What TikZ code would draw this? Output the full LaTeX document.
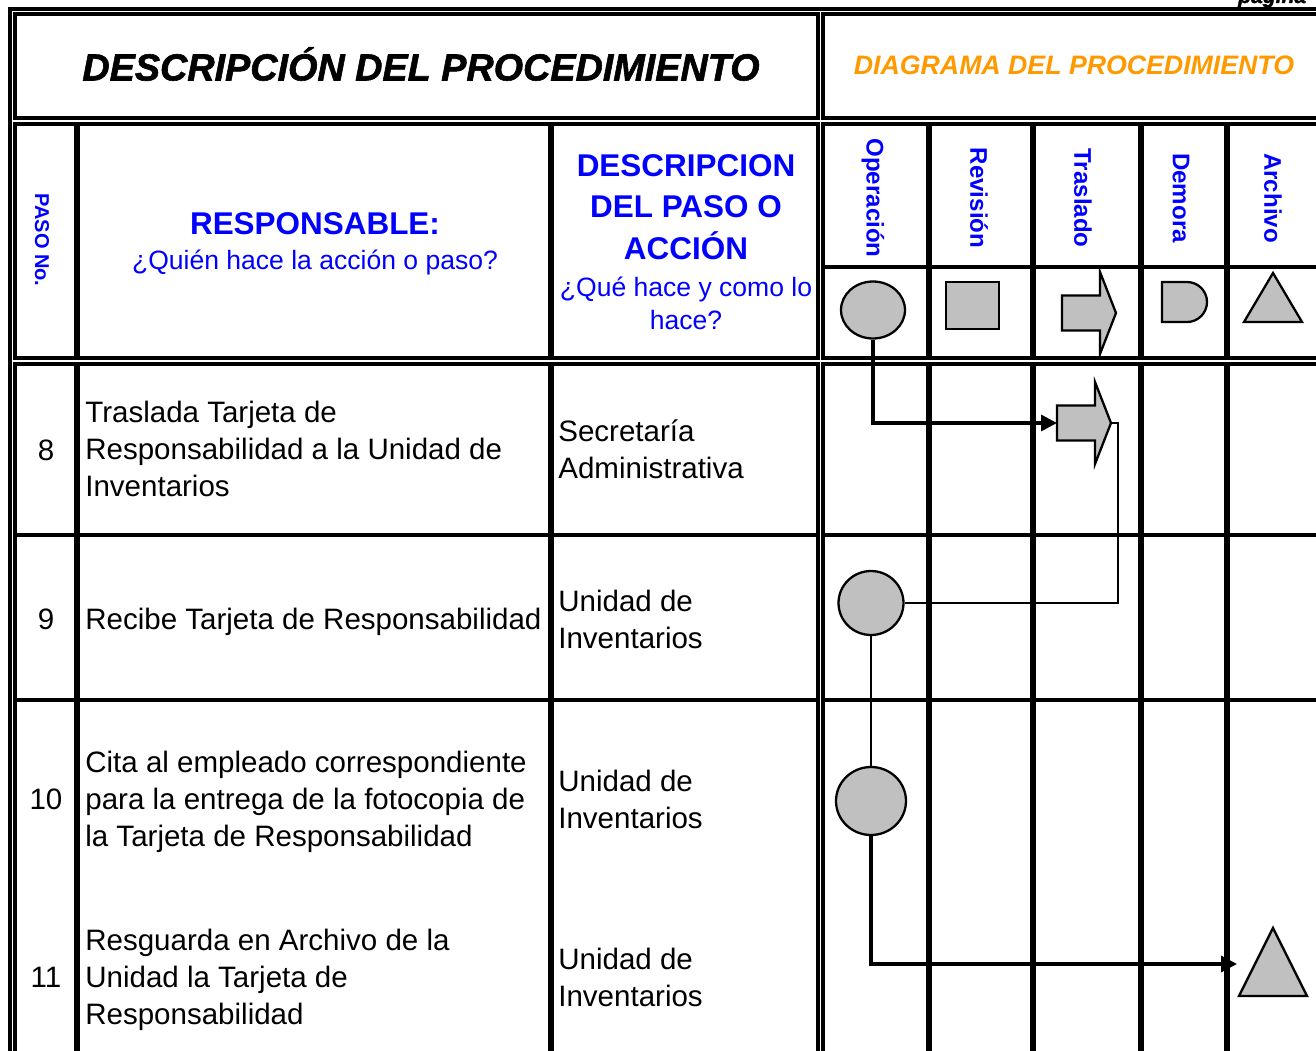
\documentclass[tikz,border=0pt]{standalone}
\usepackage{fontspec}
\setmainfont{Liberation Sans}
\newfontfamily\titulofuente[FakeBold=1.5]{Liberation Sans}
\usepackage{xcolor}
\usepackage{tikz}
\usetikzlibrary{shapes.geometric, arrows.meta, positioning}
\definecolor{pasoazul}{RGB}{0,0,255}
\definecolor{titulonaranja}{RGB}{255,153,0}
\definecolor{simbologris}{RGB}{192,192,192}
\tikzset{
    marco/.style={
        line width=2.1pt,
    },
    divisor/.style={
        line width=3pt,
    },
    simbolo/.style={
        draw=black,
        fill=simbologris,
        line width=1.3pt,
    },
    operacion/.style={
        ellipse,
        simbolo,
        inner sep=0pt,
    },
    flujo/.style={
        line width=1.9pt,
        -{Triangle[length=9pt,width=9pt]},
    },
    enlace/.style={
        line width=1.2pt,
    },
    encabezado/.style={
        text=pasoazul,
        font=\bfseries\fontsize{17.9}{23.6}\selectfont,
        align=center,
    },
    pregunta/.style={
        text=pasoazul,
        font=\fontsize{15.1}{18.8}\selectfont,
        align=center,
    },
    carril/.style={
        text=pasoazul,
        font=\bfseries\fontsize{13.7}{16}\selectfont,
        rotate=-90,
    },
    celda/.style={
        font=\fontsize{16.8}{21}\selectfont,
        align=left,
        anchor=west,
        inner sep=0pt,
    },
    paso/.style={
        font=\fontsize{16.8}{21}\selectfont,
        inner sep=0pt,
    },
    traslado/.pic={
        \draw[simbolo] (0,-17.5) -- (38,-17.5) -- (38,-41) -- (54,0) -- (38,41) -- (38,17.5) -- (0,17.5) -- cycle;
        \coordinate (-w) at (0,0);
        \coordinate (-e) at (54,0);
    },
}
\begin{document}
\begin{tikzpicture}[x=0.02cm, y=-0.02cm]
      \useasboundingbox (0,0) rectangle (1316,1051);

      \draw[marco] (10,1070) -- (10,9) -- (1330,9);
      \draw[marco] (15,14) rectangle (818,118);
      \draw[marco] (823,14) rectangle (1330,118);

      \draw[marco] (15,124) rectangle (818,358);
      \draw[marco] (823,124) rectangle (1330,358);
      \draw[marco] (823,267) -- (1330,267);
      \draw[marco] (15,364) rectangle (818,1070);
      \draw[marco] (823,364) rectangle (1330,1070);
      \foreach \y in {535,700} {
        \draw[marco] (15,\y) -- (818,\y);
        \draw[marco] (823,\y) -- (1330,\y);
      }
      \foreach \x in {77,551} {
        \draw[divisor] (\x,124) -- (\x,358);
        \draw[divisor] (\x,364) -- (\x,1070);
      }
      \foreach \x in {929,1033,1141,1227} {
        \draw[divisor] (\x,124) -- (\x,358);
        \draw[divisor] (\x,364) -- (\x,1070);
      }

      \node[font=\titulofuente\bfseries\itshape\fontsize{12}{14}\selectfont, anchor=base west] (pagina) at (1232,3) {página};
      \node[font=\titulofuente\bfseries\itshape\fontsize{21.5}{25}\selectfont] (titulo) at (421,64) {DESCRIPCIÓN DEL PROCEDIMIENTO};
      \node[text=titulonaranja, font=\bfseries\itshape\fontsize{15.2}{18}\selectfont] (diagrama) at (1074,65) {DIAGRAMA DEL PROCEDIMIENTO};

      \node[text=pasoazul, font=\bfseries\fontsize{11.4}{13}\selectfont, rotate=-90] (pasono) at (42,240) {PASO No.};
      \node[encabezado] (resp) at (315,224) {RESPONSABLE:};
      \node[pregunta] (quien) at (315,262) {¿Quién hace la acción o paso?};
      \node[encabezado] (desc) at (686,207) {DESCRIPCION\\DEL PASO O\\ACCIÓN};
      \node[pregunta] (que) at (686,303) {¿Qué hace y como lo\\hace?};
      \foreach \x/\t [count=\i] in {873/Operación, 979/Revisión, 1083/Traslado, 1181/Demora, 1273/Archivo}
        \node[carril] (carril\i) at (\x,198) {\t};

      \node[operacion, minimum width=1.28cm, minimum height=1.14cm] (hop) at (873,310) {};
      \node[simbolo, minimum width=1.06cm, minimum height=0.94cm, inner sep=0pt] (hrev) at (972.5,305.5) {};
      \pic (htra) at (1062,313) {traslado};
      \draw[simbolo] (1162,282) -- (1187,282) arc[start angle=-90, end angle=90, radius=20] -- (1162,322) -- cycle;
      \draw[simbolo] (1273,273) -- (1302,322) -- (1244,322) -- cycle;

      \node[paso] (n8) at (46,450) {8};
      \node[celda] (d8) at (85,449) {Traslada Tarjeta de\\Responsabilidad a la Unidad de\\Inventarios};
      \node[celda] (r8) at (558,449) {Secretaría\\Administrativa};
      \node[paso] (n9) at (46,619) {9};
      \node[celda] (d9) at (85,622) {Recibe Tarjeta de Responsabilidad};
      \node[celda] (r9) at (558,619) {Unidad de\\Inventarios};
      \node[paso] (n10) at (46,799) {10};
      \node[celda] (d10) at (85,802) {Cita al empleado correspondiente\\para la entrega de la fotocopia de\\la Tarjeta de Responsabilidad};
      \node[celda] (r10) at (558,799) {Unidad de\\Inventarios};
      \node[paso] (n11) at (46,977) {11};
      \node[celda] (d11) at (85,980) {Resguarda en Archivo de la\\Unidad la Tarjeta de\\Responsabilidad};
      \node[celda] (r11) at (558,977) {Unidad de\\Inventarios};

      \pic (t8) at (1057,423) {traslado};
      \node[operacion, minimum width=1.30cm, minimum height=1.28cm] (o9) at (871,603) {};
      \node[operacion, minimum width=1.40cm, minimum height=1.36cm] (o10) at (871,801) {};
      \draw[simbolo] (1273,928) -- (1307,996) -- (1239,996) -- cycle;
      \coordinate (a11) at (1237,964);

      \draw[flujo] (hop.south) |- (t8-w);
      \draw[enlace] (t8-e) -- ++(7,0) |- (o9.east);
      \draw[enlace] (o9.south) -- (o10.north);
      \draw[flujo] (o10.south) |- (a11);
\end{tikzpicture}
\end{document}
